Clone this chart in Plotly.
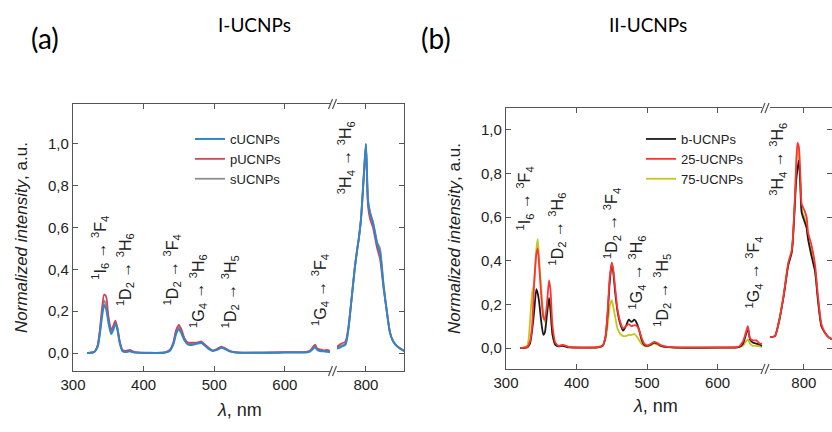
import plotly.graph_objects as go

# ---------------- data: panel (a) I-UCNPs ----------------
wl_a_left = [320, 330, 335, 338, 341, 344, 347, 350, 354, 357, 360, 363, 366, 370, 375, 380, 385, 390,
             430, 437, 442, 446, 450, 454, 458, 463, 470, 476, 482, 487, 492, 498, 504, 510, 516, 522,
             530, 540, 600, 630, 636, 640, 643, 646, 650, 655, 660, 664]
c_left = [0, 0.005, 0.03, 0.09, 0.17, 0.23, 0.21, 0.15, 0.09, 0.11, 0.14, 0.11, 0.05, 0.01, 0.005, 0.008, 0.004, 0.002,
          0.002, 0.01, 0.04, 0.09, 0.115, 0.09, 0.06, 0.04, 0.04, 0.045, 0.048, 0.035, 0.02, 0.01, 0.015, 0.025, 0.018, 0.008,
          0.003, 0.001, 0.002, 0.003, 0.008, 0.02, 0.028, 0.015, 0.01, 0.008, 0.006, 0.005]
p_left = [0, 0.005, 0.04, 0.11, 0.21, 0.28, 0.27, 0.18, 0.11, 0.13, 0.155, 0.12, 0.06, 0.015, 0.01, 0.015, 0.008, 0.003,
          0.003, 0.015, 0.05, 0.11, 0.135, 0.11, 0.07, 0.05, 0.05, 0.05, 0.055, 0.04, 0.025, 0.012, 0.02, 0.03, 0.022, 0.01,
          0.004, 0.002, 0.004, 0.005, 0.012, 0.03, 0.04, 0.022, 0.018, 0.012, 0.015, 0.01]
s_left = [0, 0.005, 0.035, 0.1, 0.19, 0.25, 0.23, 0.16, 0.1, 0.12, 0.145, 0.115, 0.055, 0.012, 0.007, 0.01, 0.005, 0.002,
          0.002, 0.012, 0.045, 0.1, 0.125, 0.1, 0.065, 0.045, 0.045, 0.048, 0.05, 0.038, 0.022, 0.011, 0.017, 0.027, 0.02, 0.009,
          0.003, 0.001, 0.003, 0.004, 0.01, 0.024, 0.032, 0.018, 0.012, 0.01, 0.009, 0.007]

wl_a_right = [759, 765, 771, 775, 780, 784, 787, 790, 793, 797, 800, 803, 806, 810, 813, 816, 820, 825, 830, 834, 838, 842, 847, 854]
c_right = [0.02, 0.03, 0.04, 0.11, 0.27, 0.4, 0.48, 0.55, 0.64, 0.85, 1.0, 0.73, 0.67, 0.62, 0.57, 0.52, 0.48, 0.32, 0.19, 0.1, 0.06, 0.04, 0.025, 0.01]
p_right = [0.03, 0.045, 0.055, 0.12, 0.27, 0.4, 0.48, 0.55, 0.64, 0.84, 0.99, 0.70, 0.64, 0.60, 0.55, 0.5, 0.45, 0.31, 0.19, 0.1, 0.06, 0.04, 0.025, 0.01]
s_right = [0.025, 0.035, 0.045, 0.11, 0.27, 0.4, 0.48, 0.55, 0.64, 0.85, 1.0, 0.72, 0.67, 0.63, 0.58, 0.53, 0.5, 0.33, 0.19, 0.1, 0.06, 0.04, 0.025, 0.01]

# ---------------- data: panel (b) II-UCNPs ----------------
wl_b_left = [320, 330, 334, 337, 340, 343, 345, 347, 350, 353, 355, 358, 361, 363, 366, 370, 375, 380, 385, 390,
             430, 437, 441, 444, 447, 450, 452, 455, 458, 462, 466, 470, 474, 478, 482, 486, 489, 492, 496, 500,
             505, 510, 515, 520, 530, 540, 600, 630, 636, 640, 643, 646, 650, 655, 660, 663]
b_left = [0, 0.003, 0.02, 0.08, 0.17, 0.27, 0.25, 0.21, 0.12, 0.06, 0.07, 0.15, 0.23, 0.18, 0.06, 0.015, 0.008, 0.01, 0.006, 0.003,
          0.003, 0.01, 0.05, 0.15, 0.3, 0.39, 0.35, 0.25, 0.17, 0.11, 0.08, 0.1, 0.13, 0.12, 0.13, 0.11, 0.08, 0.04, 0.015, 0.01,
          0.015, 0.025, 0.02, 0.01, 0.004, 0.002, 0.002, 0.004, 0.02, 0.06, 0.09, 0.04, 0.025, 0.02, 0.015, 0.01]
r25_left = [0, 0.005, 0.03, 0.1, 0.3, 0.43, 0.455, 0.38, 0.24, 0.14, 0.13, 0.2, 0.31, 0.27, 0.1, 0.025, 0.01, 0.015, 0.01, 0.004,
            0.004, 0.012, 0.05, 0.16, 0.32, 0.39, 0.36, 0.27, 0.18, 0.12, 0.09, 0.1, 0.11, 0.1, 0.105, 0.1, 0.08, 0.05, 0.02, 0.012,
            0.018, 0.028, 0.022, 0.012, 0.005, 0.003, 0.003, 0.006, 0.03, 0.07, 0.1, 0.045, 0.035, 0.035, 0.02, 0.02]
y75_left = [0, 0.01, 0.12, 0.25, 0.3, 0.45, 0.5, 0.4, 0.27, 0.15, 0.12, 0.17, 0.22, 0.17, 0.06, 0.015, 0.01, 0.015, 0.01, 0.005,
            0.003, 0.01, 0.04, 0.1, 0.19, 0.22, 0.19, 0.14, 0.09, 0.065, 0.055, 0.055, 0.06, 0.06, 0.065, 0.05, 0.035, 0.02, 0.01, 0.008,
            0.012, 0.02, 0.015, 0.008, 0.004, 0.002, 0.002, 0.004, 0.01, 0.03, 0.04, 0.02, 0.01, 0.01, 0.008, 0.005]

wl_b_right = [752, 759, 764, 771, 778, 783, 787, 789, 791, 793, 795, 797, 801, 804, 806, 811, 816, 820, 825, 830, 835, 840]
b_right = [0.05, 0.055, 0.11, 0.23, 0.38, 0.44, 0.64, 0.76, 0.82, 0.86, 0.75, 0.62, 0.58, 0.55, 0.5, 0.42, 0.35, 0.22, 0.1, 0.07, 0.05, 0.04]
r25_right = [0.05, 0.055, 0.11, 0.235, 0.39, 0.45, 0.66, 0.82, 0.94, 0.92, 0.8, 0.66, 0.63, 0.6, 0.53, 0.47, 0.38, 0.24, 0.11, 0.07, 0.05, 0.04]
y75_right = [0.05, 0.055, 0.11, 0.235, 0.39, 0.45, 0.66, 0.83, 0.93, 0.88, 0.76, 0.63, 0.6, 0.56, 0.5, 0.44, 0.36, 0.23, 0.1, 0.07, 0.05, 0.04]

# transition labels: (text, x, y_bottom, axis)
labels_a = [
    ("<sup>1</sup>I<sub>6</sub> → <sup>3</sup>F<sub>4</sub>", 338, 0.34, "x"),
    ("<sup>1</sup>D<sub>2</sub> → <sup>3</sup>H<sub>6</sub>", 373, 0.215, "x"),
    ("<sup>1</sup>D<sub>2</sub> → <sup>3</sup>F<sub>4</sub>", 440, 0.22, "x"),
    ("<sup>1</sup>G<sub>4</sub> → <sup>3</sup>H<sub>6</sub>", 477, 0.11, "x"),
    ("<sup>1</sup>D<sub>2</sub> → <sup>3</sup>H<sub>5</sub>", 522, 0.11, "x"),
    ("<sup>1</sup>G<sub>4</sub> → <sup>3</sup>F<sub>4</sub>", 650, 0.12, "x"),
    ("<sup>3</sup>H<sub>4</sub> → <sup>3</sup>H<sub>6</sub>", 771, 0.75, "x2"),
]
labels_b = [
    ("<sup>1</sup>I<sub>6</sub> → <sup>3</sup>F<sub>4</sub>", 327, 0.53, "x3"),
    ("<sup>1</sup>D<sub>2</sub> → <sup>3</sup>H<sub>6</sub>", 372, 0.37, "x3"),
    ("<sup>1</sup>D<sub>2</sub> → <sup>3</sup>F<sub>4</sub>", 450, 0.40, "x3"),
    ("<sup>1</sup>G<sub>4</sub> → <sup>3</sup>H<sub>6</sub>", 485, 0.17, "x3"),
    ("<sup>1</sup>D<sub>2</sub> → <sup>3</sup>H<sub>5</sub>", 521, 0.09, "x3"),
    ("<sup>1</sup>G<sub>4</sub> → <sup>3</sup>F<sub>4</sub>", 651, 0.17, "x3"),
    ("<sup>3</sup>H<sub>4</sub> → <sup>3</sup>H<sub>6</sub>", 763, 0.69, "x4"),
]

# ---------------- layout geometry (pixels in an 832x432 canvas) ----------------
W, H = 832, 432
def px(v): return v / W
def py(v): return 1 - v / H

A_L = (73, 330); A_R = (337, 404); A_Y = (104, 371)
B_L = (506, 762); B_R = (770, 832); B_Y = (108, 369)

range_a_left = [300, 664]; range_a_right = [759, 854]; range_a_y = [-0.086, 1.191]
range_b_left = [300, 663]; range_b_right = [752, 840]; range_b_y = [-0.096, 1.10]

FONT = "Liberation Sans, Arial, sans-serif"
AX = "#555555"
TXT = "#222222"

fig = go.Figure()

def line(x, y, color, name, xa, ya, legend, show, width=1.8, rank=None):
    fig.add_trace(go.Scatter(x=x, y=y, mode="lines", name=name, xaxis=xa, yaxis=ya,
                             line=dict(color=color, width=width, shape="spline", smoothing=0.6),
                             legend=legend, showlegend=show, legendrank=rank or 1000))

# panel a (gray, red, blue on top)
ca, pa, sa = "#2f86c8", "#c9485b", "#8e8e8e"
line(wl_a_left, s_left, sa, "sUCNPs", "x", "y", "legend", True, rank=3)
line(wl_a_left, p_left, pa, "pUCNPs", "x", "y", "legend", True, rank=2)
line(wl_a_left, c_left, ca, "cUCNPs", "x", "y", "legend", True, width=2.0, rank=1)
line(wl_a_right, s_right, sa, "sUCNPs", "x2", "y", "legend", False)
line(wl_a_right, p_right, pa, "pUCNPs", "x2", "y", "legend", False)
line(wl_a_right, c_right, ca, "cUCNPs", "x2", "y", "legend", False, width=2.0)

# panel b
cb, cr, cy = "#1b1b1b", "#ff3333", "#c8c41e"
line(wl_b_left, y75_left, cy, "75-UCNPs", "x3", "y3", "legend2", True, rank=3)
line(wl_b_left, b_left, cb, "b-UCNPs", "x3", "y3", "legend2", True, rank=1)
line(wl_b_left, r25_left, cr, "25-UCNPs", "x3", "y3", "legend2", True, rank=2)
line(wl_b_right, y75_right, cy, "75-UCNPs", "x4", "y3", "legend2", False)
line(wl_b_right, b_right, cb, "b-UCNPs", "x4", "y3", "legend2", False)
line(wl_b_right, r25_right, cr, "25-UCNPs", "x4", "y3", "legend2", False)

tickfont = dict(family=FONT, size=15, color=TXT)
def xaxis(dom, rng, anchor):
    return dict(domain=[px(dom[0]), px(dom[1])], range=rng, anchor=anchor, showline=True, linecolor=AX,
                linewidth=1.3, mirror="ticks", ticks="inside", ticklen=5, tickcolor=AX, dtick=100, tick0=0,
                showgrid=False, zeroline=False, tickfont=tickfont, automargin=False)
def yaxis(dom, rng, anchor, **kw):
    d = dict(domain=[py(dom[1]), py(dom[0])], range=rng, anchor=anchor, showline=True, linecolor=AX,
             linewidth=1.3, ticks="inside", ticklen=5, tickcolor=AX, dtick=0.2, tick0=0, tickformat=".1f",
             showgrid=False, zeroline=False, tickfont=tickfont, automargin=False)
    d.update(kw)
    return d

ytitle = dict(text="<i>Normalized intensity</i>, a.u.", font=dict(family=FONT, size=17, color=TXT), standoff=16)

fig.update_layout(
    width=W, height=H, margin=dict(l=0, r=0, t=0, b=0, autoexpand=False),
    paper_bgcolor="white", plot_bgcolor="white", separators=",.",
    xaxis=xaxis(A_L, range_a_left, "y"),
    xaxis2=xaxis(A_R, range_a_right, "y"),
    xaxis3=xaxis(B_L, range_b_left, "y3"),
    xaxis4=xaxis(B_R, range_b_right, "y3"),
    yaxis=yaxis(A_Y, range_a_y, "x", title=ytitle),
    yaxis2=yaxis(A_Y, range_a_y, "x2", overlaying="y", side="right", showticklabels=False),
    yaxis3=yaxis(B_Y, range_b_y, "x3", title=ytitle),
    yaxis4=yaxis(B_Y, range_b_y, "x4", overlaying="y3", side="right", showticklabels=False),
    legend=dict(x=px(190), y=py(124), xanchor="left", yanchor="top", bgcolor="rgba(0,0,0,0)",
                font=dict(family=FONT, size=13, color=TXT), tracegroupgap=0, itemwidth=30),
    legend2=dict(x=px(641), y=py(124), xanchor="left", yanchor="top", bgcolor="rgba(0,0,0,0)",
                 font=dict(family=FONT, size=13, color=TXT), tracegroupgap=0, itemwidth=30),
)

# invisible traces so the mirrored right-hand y frames are drawn
fig.add_trace(go.Scatter(x=[range_a_right[0]], y=[0], xaxis="x2", yaxis="y2", mode="markers",
                         marker=dict(opacity=0), showlegend=False, hoverinfo="skip"))
fig.add_trace(go.Scatter(x=[range_b_right[0]], y=[0], xaxis="x4", yaxis="y4", mode="markers",
                         marker=dict(opacity=0), showlegend=False, hoverinfo="skip"))

ann_font = dict(family=FONT, size=16, color=TXT)
for txt, x, y, xa in labels_a:
    fig.add_annotation(text=txt, x=x, y=y, xref=xa, yref="y", textangle=-90, showarrow=False,
                       xanchor="center", yanchor="bottom", font=ann_font)
for txt, x, y, xa in labels_b:
    fig.add_annotation(text=txt, x=x, y=y, xref=xa, yref="y3", textangle=-90, showarrow=False,
                       xanchor="center", yanchor="bottom", font=ann_font)

# panel letters and titles
title_font = "Lato, Open Sans, sans-serif"
def ptext(t, x, y, size):
    fig.add_annotation(text=t, x=px(x), y=py(y), xref="paper", yref="paper", showarrow=False,
                       xanchor="center", yanchor="middle", font=dict(family=title_font, size=size, color="black"))
ptext("(a)", 45, 38, 28)
ptext("I-UCNPs", 254, 25, 19)
ptext("(b)", 436, 38, 28)
ptext("II-UCNPs", 648, 25, 19)

# x axis titles
xt_font = dict(family=FONT, size=18, color=TXT)
fig.add_annotation(text="<i>λ</i>, nm", x=px(240), y=py(410), xref="paper", yref="paper", showarrow=False,
                   xanchor="center", yanchor="middle", font=xt_font)
fig.add_annotation(text="<i>λ</i>, nm", x=px(655), y=py(406), xref="paper", yref="paper", showarrow=False,
                   xanchor="center", yanchor="middle", font=xt_font)

# axis break marks "//"
def brk(cx, cy):
    for dx in (-3, 1):
        fig.add_shape(type="line", xref="paper", yref="paper", xsizemode="pixel", ysizemode="pixel",
                      xanchor=px(cx), yanchor=py(cy), x0=dx - 2, x1=dx + 2, y0=-5, y1=5,
                      line=dict(color=AX, width=1.2))
for cx, (top, bot) in ((333.5, A_Y), (766, B_Y)):
    brk(cx, top)
    brk(cx, bot)

fig.write_html("out.html", config={"displayModeBar": False},
               post_script="document.body.style.margin='0';document.body.style.overflow='hidden';")
